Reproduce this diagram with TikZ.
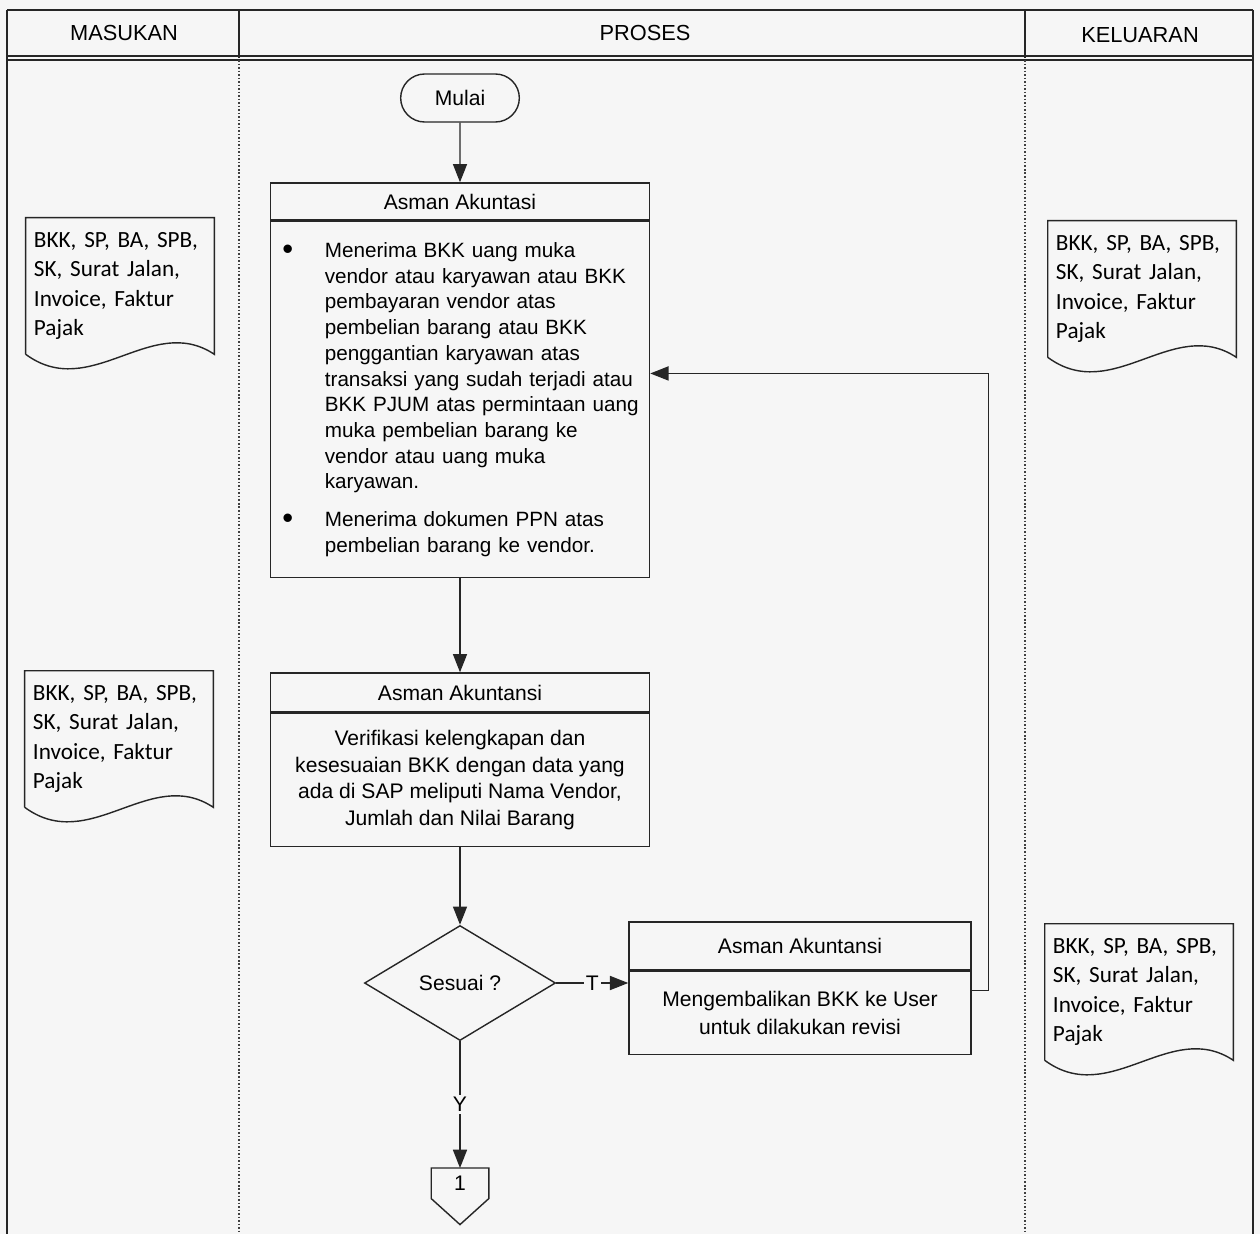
\documentclass[tikz,border=0pt]{standalone}
\usepackage{fontspec}
\setmainfont{Liberation Sans}
\newfontfamily\docfont{Carlito}
\usetikzlibrary{arrows.meta,shapes.geometric,shapes.misc,positioning}

\tikzset{
  ln/.style={draw=black!85, line width=1pt},
  lane/.style={draw=black!75, line width=1.1pt, dash pattern=on 1.1pt off 1.4pt},
  lanehd/.style={font=\fontsize{15.5pt}{18pt}\selectfont},
  term/.style={ln, rounded rectangle, minimum width=3.2cm, minimum height=1.2cm, font=\fontsize{15pt}{18pt}\selectfont},
  hd/.style={ln, rectangle, inner sep=0pt, font=\fontsize{15pt}{18pt}\selectfont},
  bd/.style={ln, rectangle, anchor=north, inner sep=0pt, align=center},
  dec/.style={ln, diamond, inner sep=0pt, minimum width=4.775cm, minimum height=2.875cm, font=\fontsize{15pt}{18pt}\selectfont},
  doc/.style={minimum width=4.7cm, minimum height=3.4cm, inner xsep=0.2cm, text width=4.3cm, align=left, font=\docfont\fontsize{16.5pt}{20.8pt}\selectfont},
  conn/.style={minimum width=1.425cm, minimum height=0.75cm, inner sep=0pt, anchor=north, font=\fontsize{15pt}{18pt}\selectfont},
  lbl/.style={fill=gray!7, inner sep=1.5pt, font=\fontsize{15pt}{18pt}\selectfont},
  flow/.style={draw=black!85, line width=1pt, ->}
}

% document symbol with wavy bottom
\newcommand{\docoutline}[1]{%
  \draw[ln] (#1.south west) -- (#1.north west) -- (#1.north east) -- (#1.south east)
    .. controls +(-63,-42) and +(65,48) .. (#1.south west);}
\newcommand{\itemdot}{\makebox[1.06cm][l]{\fontsize{22pt}{22pt}\selectfont\raisebox{-1.5pt}{\textbullet}}}

\begin{document}
\begin{tikzpicture}[x=0.025cm, y=-0.025cm, >={Triangle[length=13pt,width=10pt]}]
	\fill[gray!7] (0,0) rectangle (1260,1234);
	\useasboundingbox (0,0) rectangle (1260,1234);
	% frame and lanes
	\draw[ln, line width=1.6pt] (7,10) -- (1253,10);
	\draw[ln] (7,56) -- (1253,56) (7,60) -- (1253,60);
	\draw[ln] (7,10) -- (7,1234) (1253,10) -- (1253,1234);
	\draw[ln] (239,10) -- (239,58) (1025,10) -- (1025,58);
	\draw[lane] (239,60) -- (239,1234) (1025,60) -- (1025,1234);
	\node[lanehd] (lnIn) at (124,33) {MASUKAN};
	\node[lanehd] (lnPr) at (645,33) {PROSES};
	\node[lanehd] (lnOut) at (1140,35) {KELUARAN};
	% documents
	\node[doc] (in1) at (120,286) {BKK, SP, BA, SPB,\\SK, Surat Jalan,\\Invoice, Faktur\\Pajak};
	\node[doc] (in2) at (119,739) {BKK, SP, BA, SPB,\\SK, Surat Jalan,\\Invoice, Faktur\\Pajak};
	\node[doc] (out1) at (1142,289) {BKK, SP, BA, SPB,\\SK, Surat Jalan,\\Invoice, Faktur\\Pajak};
	\node[doc] (out2) at (1139,992) {BKK, SP, BA, SPB,\\SK, Surat Jalan,\\Invoice, Faktur\\Pajak};
	\foreach \dn in {in1,in2,out1,out2} {\docoutline{\dn}}
	% process
	\node[term] (start) at (460,98) {Mulai};
	\node[hd, minimum width=9.475cm, minimum height=0.925cm] (h1) at (460,201.5) {Asman Akuntasi};
	\node[bd, minimum width=9.475cm, minimum height=8.9cm, text width=8.875cm, inner xsep=0.3cm, align=left,
	      font=\fontsize{14.7pt}{18.3pt}\selectfont] (b1) at (h1.south) {%
	  \itemdot\parbox[t]{7.85cm}{Menerima BKK uang muka\\vendor atau karyawan atau BKK\\pembayaran vendor atas\\pembelian barang atau BKK\\penggantian karyawan atas\\transaksi yang sudah terjadi atau\\BKK PJUM atas permintaan uang\\muka pembelian barang ke\\vendor atau uang muka\\karyawan.}\par\vspace{12pt}
	  \itemdot\parbox[t]{7.85cm}{Menerima dokumen PPN atas\\pembelian barang ke vendor.}\par\vspace{5pt}};
	\node[hd, minimum width=9.475cm, minimum height=0.975cm] (h2) at (460,692.5) {Asman Akuntansi};
	\node[bd, minimum width=9.475cm, minimum height=3.325cm, font=\fontsize{15pt}{19pt}\selectfont] (b2) at (h2.south)
	  {Verifikasi kelengkapan dan\\kesesuaian BKK dengan data yang\\ada di SAP meliputi Nama Vendor,\\Jumlah dan Nilai Barang};
	\node[dec] (dia) at (460,983) {Sesuai ?};
	\node[hd, minimum width=8.55cm, minimum height=1.2cm] (h3) at (800,946) {Asman Akuntansi};
	\node[bd, minimum width=8.55cm, minimum height=2.075cm, font=\fontsize{15pt}{20pt}\selectfont] (b3) at (h3.south)
	  {Mengembalikan BKK ke User\\untuk dilakukan revisi};
	\node[conn] (off) at (460,1168) {1};
	\draw[ln] (off.south west) -- (off.north west) -- (off.north east) -- (off.south east) -- ([yshift=-0.65cm]off.south) -- cycle;
	% connectors
	\draw[flow] (start) -- (h1);
	\draw[flow] (b1) -- (h2);
	\draw[flow] (b2) -- (dia);
	\draw[flow] (dia.east) -- node[lbl]{T} (dia.east -| h3.west);
	\draw[flow] (dia) -- node[lbl]{Y} (off);
	\draw[flow] ([yshift=0.56cm]b3.east) -- ++(17,0) |- ([yshift=0.65cm]b1.east); % back for revision
\end{tikzpicture}
\end{document}
